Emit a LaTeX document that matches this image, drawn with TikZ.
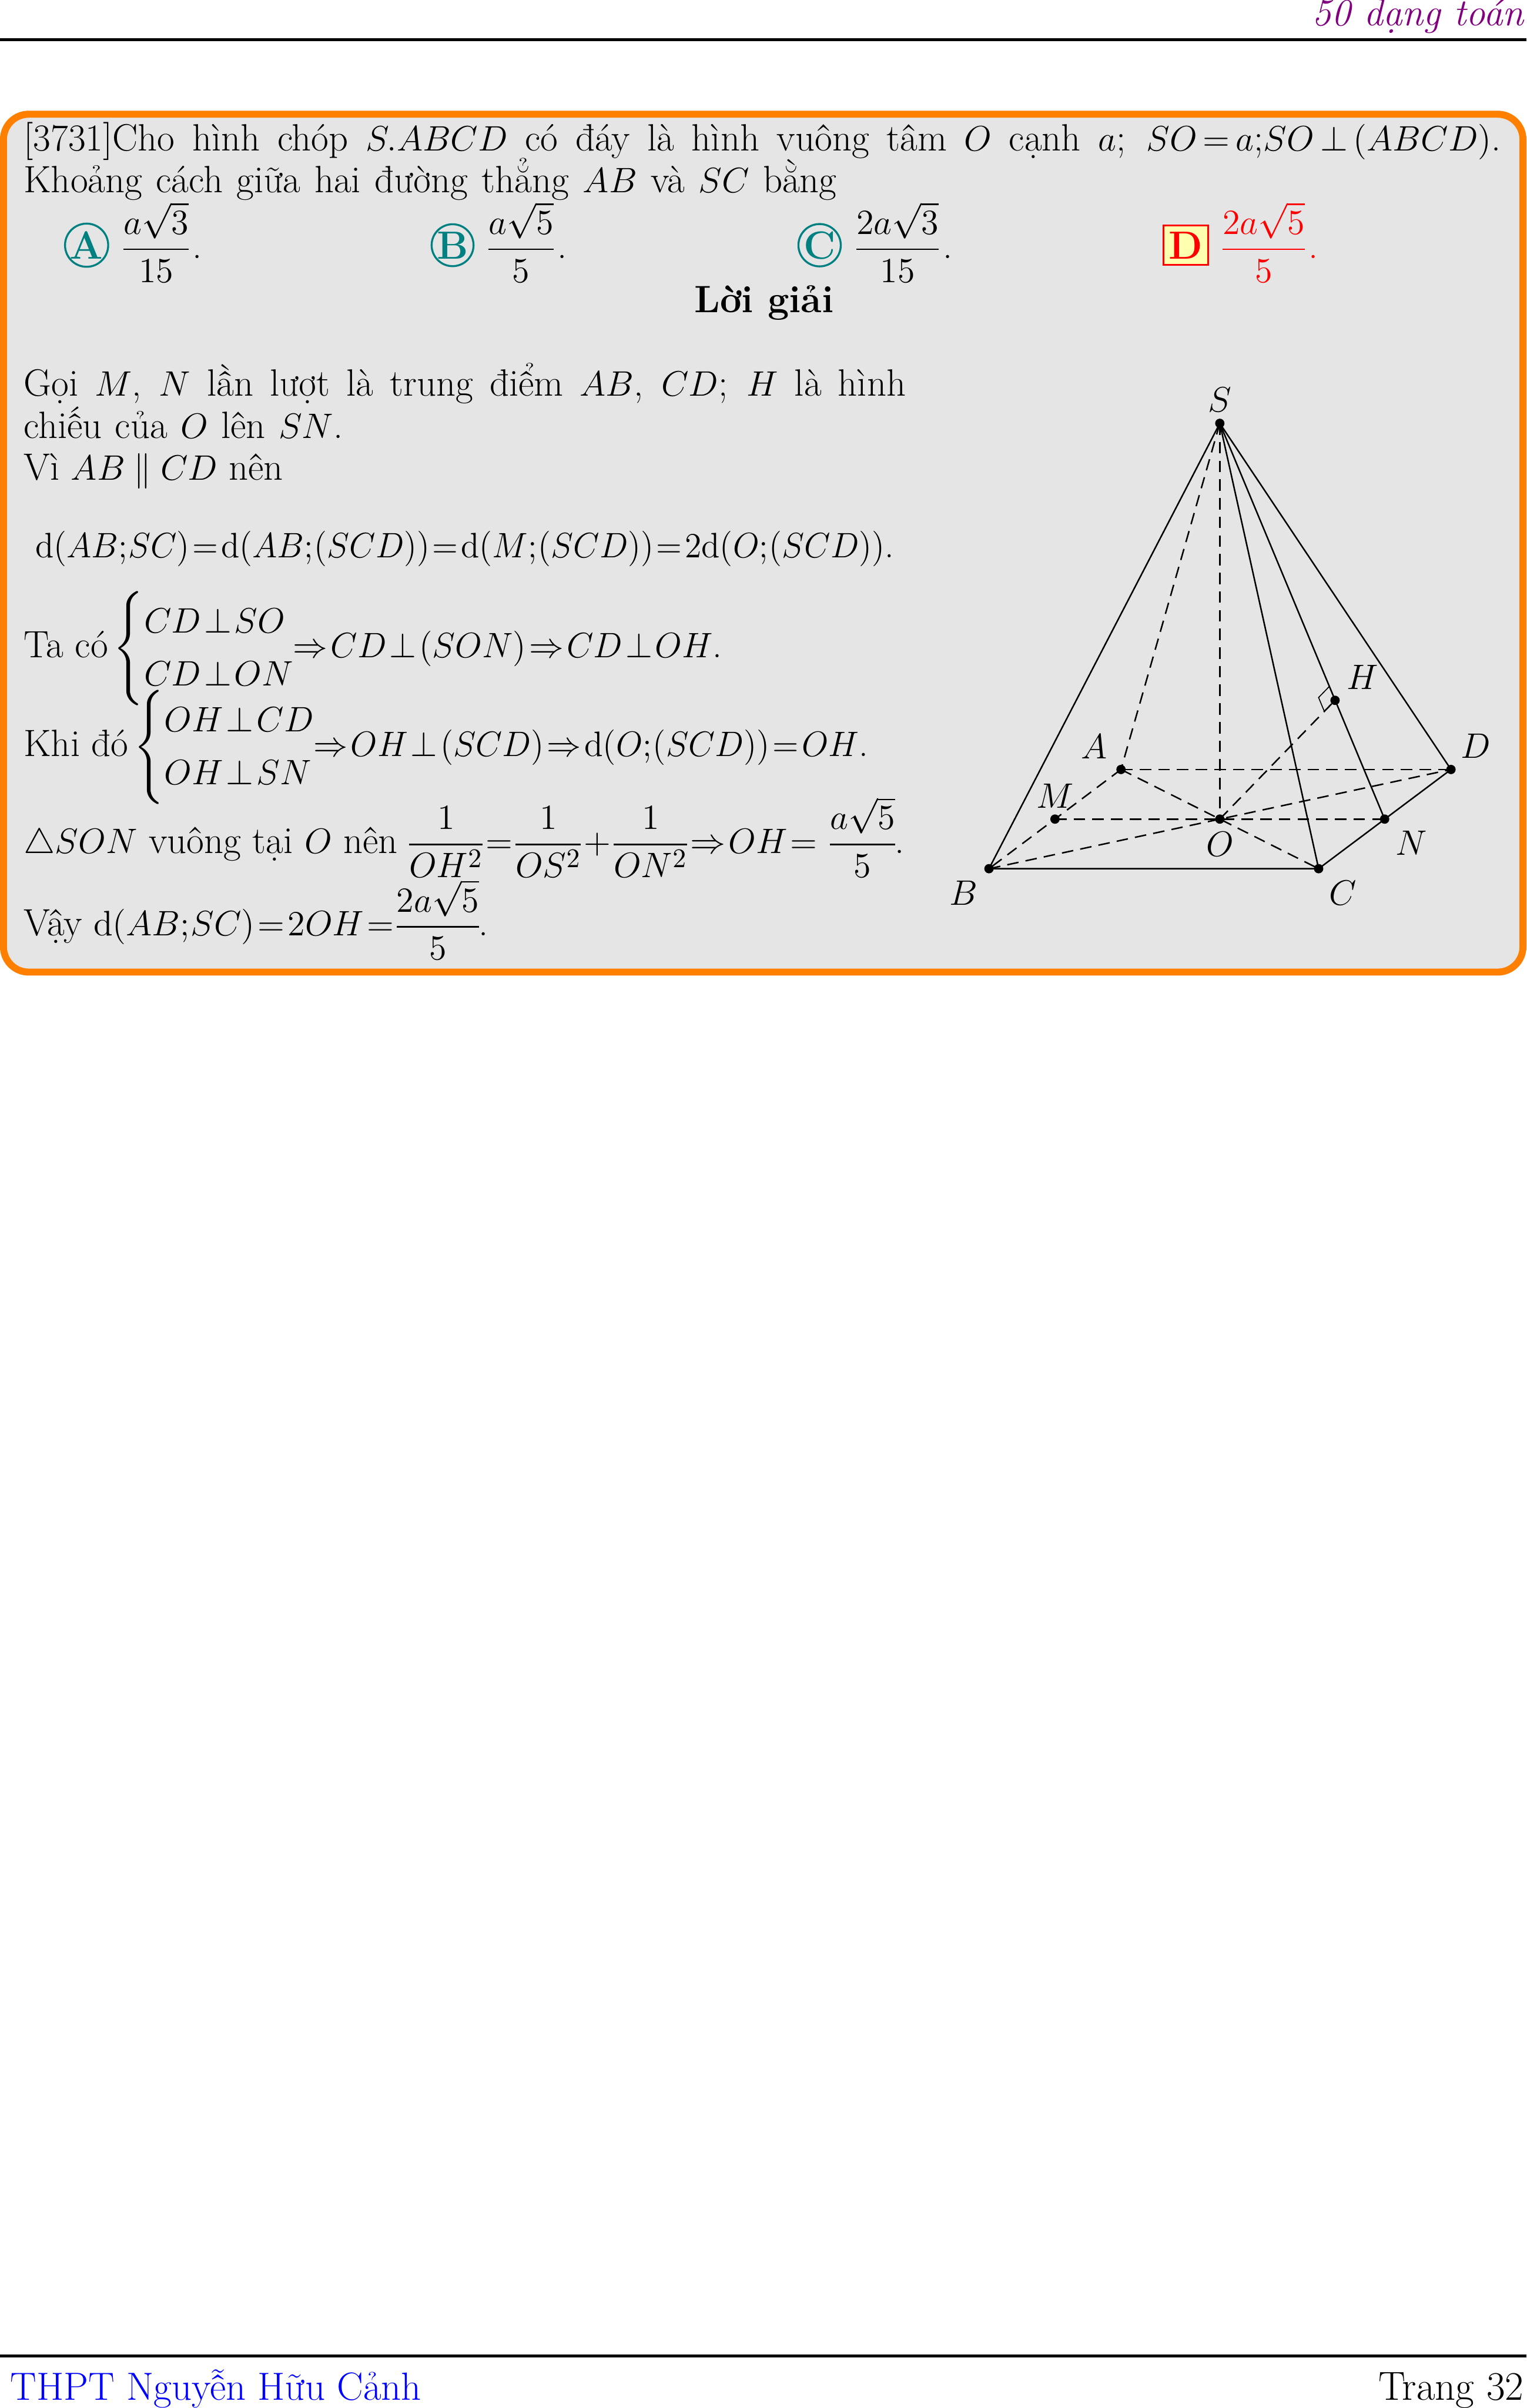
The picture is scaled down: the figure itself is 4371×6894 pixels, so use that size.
\documentclass[tikz,border=0pt]{standalone}
\usepackage{amsmath}
\usepackage{amssymb}
\usepackage{graphicx}
\usepackage{xcolor}
\usetikzlibrary{positioning,calc}
\definecolor{boxorange}{HTML}{FF8000}
\definecolor{boxgrey}{HTML}{E5E5E5}
\definecolor{optteal}{HTML}{008080}
\definecolor{optyellow}{HTML}{FFFFB0}
\definecolor{headpurple}{HTML}{800080}
\newcommand{\tightMath}{\thickmuskip=1.5mu\relax\medmuskip=1.5mu\relax\thinmuskip=0.5mu\relax\nulldelimiterspace=0pt\relax}
\newcommand{\wideRel}{\thickmuskip=3mu\relax}
\newcommand{\sysTwo}[2]{\hspace{-2.5pt}\left\{\renewcommand{\arraystretch}{1.2}\begin{array}{@{}l@{}}#1\\ #2\end{array}\right.}

\begin{document}
\begin{tikzpicture}[
  x=0.05mm, y=-0.05mm,
  solTxt/.style ={anchor=base west, inner sep=0pt, outer sep=0pt, font=\fontsize{15.5}{18}\selectfont\tightMath},
  ptLbl/.style  ={inner sep=0pt, outer sep=0pt, font=\fontsize{15.5}{18}\selectfont},
  optRing/.style={circle, draw=optteal, line width=0.8pt, minimum size=6mm, inner sep=0pt, text=optteal, font=\fontsize{16}{18}\selectfont\bfseries},
  optBox/.style ={draw=red, fill=optyellow, line width=0.7pt, minimum width=6.4mm, minimum height=5.7mm, inner sep=0pt, text=red, font=\fontsize{16}{18}\selectfont\bfseries},
  edgeSolid/.style={line width=0.6pt},
  edgeHidden/.style={line width=0.6pt, dash pattern=on 4.7pt off 2.9pt},
]
\useasboundingbox (0,0) rectangle (4371,6894);
% page head and foot
\draw[line width=1.2pt] (0,114) -- (4371,114);
\draw[line width=1.3pt] (0,6745) -- (4371,6745);
\node[anchor=base east, inner sep=0pt, font=\fontsize{15.6}{18}\selectfont\itshape, text=headpurple] (headTxt) at (4365,74) {50 dạng toán};
\node[anchor=base west, inner sep=0pt, font=\fontsize{16}{18}\selectfont, text=blue] (footL) at (28,6872) {THPT Nguyễn Hữu Cảnh};
\node[anchor=base east, inner sep=0pt, font=\fontsize{16.5}{18}\selectfont] (footR) at (4365,6872) {Trang 32};
% question box
\draw[boxorange, fill=boxgrey, line width=2.85pt, rounded corners=3.6mm] (10,327) rectangle (4361,2783);

% question text
\node[solTxt, font=\fontsize{15.5}{18}\selectfont\tightMath\wideRel] (qOne) at (68,431) {\makebox[211.5mm][s]{[3731]Cho hình chóp $S.ABCD$ có đáy là hình vuông tâm $O$ cạnh $a$; $SO=a$;$SO\perp(ABCD)$.}};
\node[solTxt] (qTwo) at (68,551) {\makebox[116.4mm][s]{Khoảng cách giữa hai đường thẳng $AB$ và $SC$ bằng}};
% options: ring or box at y=702, fraction rule at y=712
\foreach \name/\ltr/\xr/\xf/\num/\den in {%
  optA/A/248/354/a\sqrt{3}/15,
  optB/B/1296/1399/a\sqrt{5}/5,
  optC/C/2347/2453/2a\sqrt{3}/15%
} {
  \node[optRing] (\name) at (\xr,702) {\ltr};
  \node[solTxt] (\name val) at (\xf,739) {$\dfrac{\num}{\den}\mkern2mu$.};
}
\node[optBox] (optD) at (3396,702) {D};
\node[solTxt, text=red] (optDval) at (3501,739) {$\dfrac{2a\sqrt{5}}{5}\mkern2mu$.};
\node[solTxt, anchor=base, font=\fontsize{15.5}{18}\selectfont\bfseries] (solHead) at (2188,894) {Lời giải};

% solution text
\node[solTxt] (lnOne) at (68,1133) {\makebox[126.3mm][s]{Gọi $M$, $N$ lần lượt là trung điểm $AB$, $CD$; $H$ là hình}};
\node[solTxt] (lnTwo) at (68,1254) {\makebox[45.7mm][s]{chiếu của $O$ lên $SN$.}};
\node[solTxt] (lnThree) at (68,1375) {Vì $AB\mkern3mu\parallel\mkern3mu CD$ nên};
\node[solTxt] (lnFour) at (101,1597) {\scalebox{0.957}[1]{$\mathrm{d}(AB;SC)=\mathrm{d}(AB;(SCD))=\mathrm{d}(M;(SCD))=2\mathrm{d}(O;(SCD))$.}};
\node[solTxt] (lnFive) at (68,1882) {Ta có $\sysTwo{CD\perp SO}{CD\perp ON}$\scalebox{0.98}[1]{$\Rightarrow CD\perp(SON)\Rightarrow CD\perp OH$.}};
\node[solTxt] (lnSix) at (68,2165) {Khi đó $\sysTwo{OH\perp CD}{OH\perp SN}$\scalebox{0.97}[1]{$\Rightarrow OH\perp(SCD)\Rightarrow\mathrm{d}(O;(SCD))=OH$.}};
\node[solTxt] (lnSeven) at (68,2443) {$\triangle SON$ vuông tại $O$ nên $\dfrac{1}{OH^2}=\dfrac{1}{OS^2}+\dfrac{1}{ON^2}\Rightarrow OH=\mkern5mu\dfrac{a\sqrt{5}}{5}$.};
\node[solTxt] (lnEight) at (68,2679) {Vậy $\mathrm{d}(AB;SC)=2OH=\dfrac{2a\sqrt{5}}{5}$.};

% pyramid
\coordinate (S) at (3493,1212);
\coordinate (A) at (3210,2203);
\coordinate (B) at (2832,2487);
\coordinate (C) at (3776,2487);
\coordinate (D) at (4155,2203);
\coordinate (O) at (3493,2345);
\coordinate (M) at (3021,2345);
\coordinate (N) at (3965,2345);
\coordinate (H) at (3823,2005);
\draw[edgeSolid] (S) -- (B) -- (C) -- (D) -- cycle;
\draw[edgeSolid] (S) -- (C);
\draw[edgeSolid] (S) -- (N);
\draw[edgeHidden] (S) -- (A);
\draw[edgeHidden] (S) -- (O);
\draw[edgeHidden] (A) -- (B);
\draw[edgeHidden] (A) -- (D);
\draw[edgeHidden] (A) -- (C);
\draw[edgeHidden] (B) -- (D);
\draw[edgeHidden] (M) -- (N);
\draw[edgeHidden] (O) -- (H);
% right angle at H
\draw[line width=0.4pt] ($(H)!0.05!(S)$) -- ($(H)!0.05!(S)+(H)!0.093!(O)-(H)$) -- ($(H)!0.093!(O)$);
\foreach \p in {S,A,B,C,D,O,M,N,H}
  \fill (\p) circle (1.9pt);
% point labels
\foreach \p/\x/\y in {S/3493/1145, A/3133/2138, B/2760/2557, C/3846/2557, D/4225/2135, H/3901/1939, M/3021/2278, N/4042/2414, O/3493/2417}
  \node[ptLbl] (lbl\p) at (\x,\y) {$\p$};
\end{tikzpicture}
\end{document}
